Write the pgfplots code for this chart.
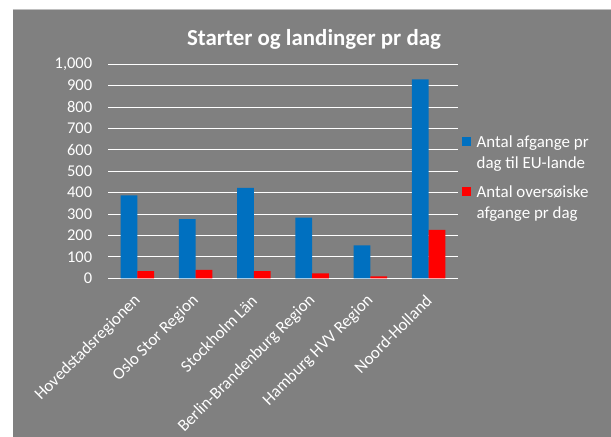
\documentclass[border=0pt]{standalone}
\usepackage{fontspec}
\setmainfont{Carlito}
\usepackage{pgfplots}
\pgfplotsset{compat=1.18}
\definecolor{bg}{HTML}{808080}
\definecolor{eublue}{HTML}{0070C0}
\definecolor{osred}{HTML}{FF0000}
\begin{document}
\begin{tikzpicture}
\path[use as bounding box] (0bp,0bp) rectangle (611bp,-437bp);
\fill[white] (0bp,0bp) rectangle (611bp,-437bp);
\fill[bg] (12.5bp,-9.5bp) rectangle (611bp,-437bp);
\draw[black!25, line width=0.8bp] (12.5bp,-9.5bp) -- (611bp,-9.5bp);
\node[anchor=base, text=white, inner sep=0pt, font=\fontsize{23}{27}\selectfont\bfseries] at (314bp,-45bp) {Starter og landinger pr dag};
\begin{axis}[
  at={(108.3bp,-278.3bp)}, anchor=south west,
  scale only axis, width=349.4bp, height=214bp,
  ymin=0, ymax=1000, xmin=-0.5, xmax=5.5,
  clip=false,
  ybar=0pt, bar width=16.7bp,
  ytick={0,100,...,1000},
  xtick={0,1,2,3,4,5},
  xticklabels={Hovedstadsregionen, Oslo Stor Region, Stockholm Län, Berlin-Brandenburg Region, Hamburg HVV Region, Noord-Holland},
  axis line style={draw=none},
  major tick length=0pt,
  ymajorgrids, major grid style={white, line width=1bp},
  yticklabel style={text=white, font=\fontsize{16.5}{20}\selectfont, inner sep=0pt, xshift=-16bp},
  xticklabel style={text=white, font=\fontsize{17}{20}\selectfont, inner sep=0pt, rotate=45, anchor=east, xshift=-13.6bp, yshift=-14.25bp},
  /pgf/number format/.cd, 1000 sep={,}, assume math mode=true,
  /pgfplots/.cd,
  legend style={at={(1.013,0.6787)}, anchor=north west, draw=none, fill=none, inner sep=0pt, outer sep=0pt, column sep=6bp, row sep=34bp,
    nodes={inner sep=0pt, text=white, font=\fontsize{17}{21}\selectfont}},
  legend cell align=left,
  legend image code/.code={\fill[#1,draw=none] (0bp,-4.6bp) rectangle (8.4bp,3.8bp);},
]
\addplot[fill=eublue, draw=none] coordinates {(0,388) (1,277) (2,422) (3,283) (4,154) (5,930)};
\addplot[fill=osred, draw=none] coordinates {(0,34) (1,39) (2,34) (3,23) (4,9) (5,226)};
\addlegendentry{\begin{tabular}[t]{@{}l@{}}Antal afgange pr\\dag til EU-lande\end{tabular}}
\addlegendentry{\begin{tabular}[t]{@{}l@{}}Antal oversøiske\\afgange pr dag\end{tabular}}
\end{axis}
\end{tikzpicture}
\end{document}
